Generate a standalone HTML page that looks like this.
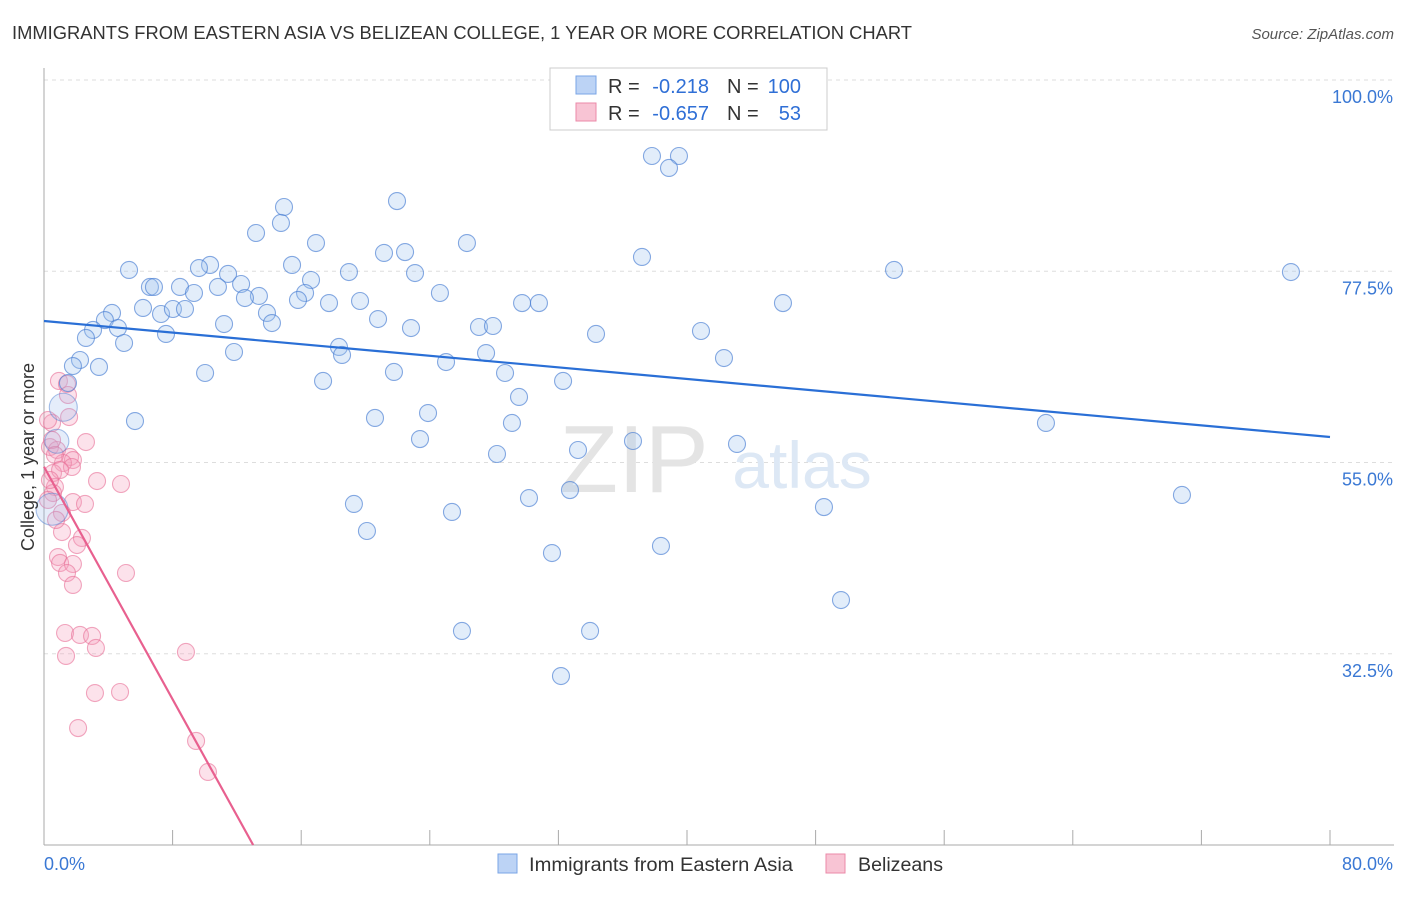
<!DOCTYPE html>
<html><head><meta charset="utf-8"><style>
body{margin:0;background:#fff;font-family:"Liberation Sans",sans-serif;}
svg text{font-family:"Liberation Sans",sans-serif;}
</style></head><body>
<svg id="chart" width="1406" height="892">
<text x="12" y="39" font-size="18" fill="#333" textLength="900" lengthAdjust="spacingAndGlyphs">IMMIGRANTS FROM EASTERN ASIA VS BELIZEAN COLLEGE, 1 YEAR OR MORE CORRELATION CHART</text>
<text x="1394" y="39" font-size="15" fill="#555" font-style="italic" text-anchor="end">Source: ZipAtlas.com</text>
<g id="grid"></g>
<text x="634" y="492" font-size="96" fill="#e4e4e4" font-family="Liberation Serif" text-anchor="middle">ZIP</text>
<text x="802" y="488" font-size="66" fill="#dde8f5" text-anchor="middle">atlas</text>
<g id="pts"></g>
<g id="lines"></g>
<text transform="translate(34,457) rotate(-90)" font-size="18" fill="#333" text-anchor="middle">College, 1 year or more</text>
<text x="44" y="870" font-size="18" fill="#3a78d4">0.0%</text>
<text x="1393" y="870" font-size="18" fill="#3a78d4" text-anchor="end">80.0%</text>
<g>
<rect x="550" y="68" width="277" height="62" fill="#fff" stroke="#ccc"/>
<rect x="576" y="76" width="20" height="18" fill="#bcd3f5" stroke="#7aa5e6"/>
<text x="608" y="93" font-size="20" fill="#333">R =</text>
<text x="709" y="93" font-size="20" fill="#2f6fd6" text-anchor="end">-0.218</text>
<text x="727" y="93" font-size="20" fill="#333">N =</text>
<text x="801" y="93" font-size="20" fill="#2f6fd6" text-anchor="end">100</text>
<rect x="576" y="103" width="20" height="18" fill="#f8c4d4" stroke="#eb8aa8"/>
<text x="608" y="120" font-size="20" fill="#333">R =</text>
<text x="709" y="120" font-size="20" fill="#2f6fd6" text-anchor="end">-0.657</text>
<text x="727" y="120" font-size="20" fill="#333">N =</text>
<text x="801" y="120" font-size="20" fill="#2f6fd6" text-anchor="end">53</text>
</g>
<g>
<rect x="498" y="854" width="19" height="19" fill="#bcd3f5" stroke="#7aa5e6"/>
<text x="529" y="871" font-size="19" fill="#333" textLength="264" lengthAdjust="spacingAndGlyphs">Immigrants from Eastern Asia</text>
<rect x="826" y="854" width="19" height="19" fill="#f8c4d4" stroke="#eb8aa8"/>
<text x="858" y="871" font-size="19" fill="#333" textLength="85" lengthAdjust="spacingAndGlyphs">Belizeans</text>
</g>
</svg>
<script>
const yTicks=[100,77.5,55,32.5];
const xTicks=[0,8,16,24,32,40,48,56,64,72,80];
const bluePx=[[652,156],[679,156],[669,168],[397,201],[284,207],[281,223],[256,233],[316,243],[467,243],[384,253],[405,252],[210,265],[199,268],[292,265],[129,270],[228,274],[349,272],[415,273],[642,257],[894,270],[1291,272],[150,287],[154,287],[180,287],[218,287],[241,284],[311,280],[194,293],[305,293],[259,296],[245,298],[298,300],[329,303],[360,301],[440,293],[522,303],[539,303],[783,303],[112,313],[143,308],[161,314],[173,309],[185,309],[105,320],[267,313],[272,323],[224,324],[378,319],[93,330],[118,328],[166,334],[411,328],[479,327],[493,326],[596,334],[701,331],[86,338],[124,343],[339,347],[342,355],[486,353],[234,352],[80,360],[73,366],[99,367],[446,362],[724,358],[205,373],[394,372],[505,373],[323,381],[563,381],[68,383],[519,397],[135,421],[375,418],[428,413],[1046,423],[512,423],[420,439],[578,450],[633,441],[737,444],[497,454],[570,490],[529,498],[354,504],[1182,495],[452,512],[824,507],[367,531],[552,553],[661,546],[841,600],[462,631],[590,631],[561,676]];
const pinkPx=[[59,381],[67,384],[68,395],[69,417],[52,423],[86,442],[50,447],[57,450],[70,457],[73,460],[63,463],[72,467],[53,473],[97,481],[121,484],[55,487],[53,493],[73,502],[85,504],[62,513],[62,532],[82,538],[77,545],[58,557],[60,563],[73,564],[67,573],[73,585],[126,573],[65,633],[80,635],[92,636],[96,648],[66,656],[186,652],[95,693],[120,692],[78,728],[196,741],[208,772],[48,420],[52,440],[55,455],[60,470],[50,480],[48,500],[56,520]];
const X0=44,X1=1330,Y100=80,PXPCT=8.5;
const blueX=bluePx.map(p=>+((p[0]-X0)/((X1-X0)/80)).toFixed(2));
const blueY=bluePx.map(p=>+(100-(p[1]-Y100)/PXPCT).toFixed(2));
const pinkX=pinkPx.map(p=>+((p[0]-X0)/((X1-X0)/80)).toFixed(2));
const pinkY=pinkPx.map(p=>+(100-(p[1]-Y100)/PXPCT).toFixed(2));
const bigBlue=[[1.2,61.5,14],[0.5,49.5,16],[0.8,57.5,12]];
const blueFit=[71.65,-0.1706];
const pinkFit=[54.5,-3.42];

const xs=v=>X0+v*(X1-X0)/80;
const ys=v=>Y100+(100-v)*PXPCT;
const NS='http://www.w3.org/2000/svg';
function mk(t,a,p){const e=document.createElementNS(NS,t);for(const k in a)e.setAttribute(k,a[k]);p.appendChild(e);return e;}
const grid=document.getElementById('grid');
yTicks.forEach(t=>{
 const l=mk('line',{x1:44,x2:1394,y1:ys(t),y2:ys(t),stroke:'#ddd','stroke-dasharray':'4,4'},grid);
 
 
 const tx=mk('text',{x:1393,y:ys(t)+23,'font-size':18,fill:'#3a78d4','text-anchor':'end'},grid);
 tx.textContent=t.toFixed(1)+'%';
 
 
});
mk('line',{x1:44,x2:44,y1:68,y2:845,stroke:'#aaa'},grid);
mk('line',{x1:44,x2:1394,y1:845,y2:845,stroke:'#aaa'},grid);
xTicks.forEach(t=>{
 const l=mk('line',{x1:xs(t),x2:xs(t),y1:830,y2:845,stroke:'#aaa'},grid);
 
 
});
const pts=document.getElementById('pts');
pinkX.forEach((x,i)=>{
 const c=mk('circle',{cx:xs(x),cy:ys(pinkY[i]),r:8.5,fill:'rgba(244,160,188,0.3)',stroke:'rgba(232,110,150,0.6)','stroke-width':1.1},pts);
 
 
});
bigBlue.forEach(b=>{
 const c=mk('circle',{cx:xs(b[0]),cy:ys(b[1]),r:b[2],fill:'rgba(150,185,235,0.25)',stroke:'rgba(80,130,210,0.5)','stroke-width':1.1},pts);
 
 
});
blueX.forEach((x,i)=>{
 const c=mk('circle',{cx:xs(x),cy:ys(blueY[i]),r:8.5,fill:'rgba(160,195,240,0.3)',stroke:'rgba(70,125,210,0.65)','stroke-width':1.1},pts);
 
 
});
const lines=document.getElementById('lines');
const bl=mk('line',{x1:xs(0),y1:ys(blueFit[0]),x2:xs(80),y2:ys(blueFit[0]+80*blueFit[1]),stroke:'#2a6fd6','stroke-width':2.2},lines);


const xEnd=(10-pinkFit[0])/pinkFit[1];
const pl=mk('line',{x1:xs(0),y1:ys(pinkFit[0]),x2:xs(xEnd),y2:ys(10),stroke:'#e8608f','stroke-width':2.2},lines);


</script>
</body></html>
